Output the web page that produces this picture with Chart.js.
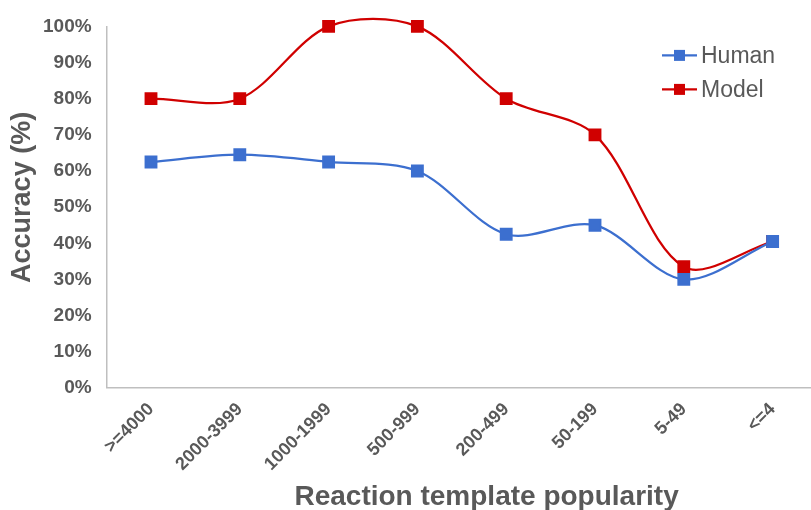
<!DOCTYPE html>
<html>
<head>
<meta charset="utf-8">
<script src="https://cdn.jsdelivr.net/npm/chart.js@4.4.1/dist/chart.umd.min.js"></script>
<style>
  html, body { margin: 0; padding: 0; background: #fff; overflow: hidden; }
  canvas { display: block; }
</style>
</head>
<body>
<canvas id="chart" width="818" height="510"></canvas>
<script>
const categories = ['>=4000', '2000-3999', '1000-1999', '500-999', '200-499', '50-199', '5-49', '<=4'];
const humanValues = [62.5, 64.5, 62.5, 60, 42.5, 45, 30, 40.5];
const modelValues = [80, 80, 100, 100, 80, 70, 33.5, 40.5];
const yTicks = [0, 10, 20, 30, 40, 50, 60, 70, 80, 90, 100];

const xTitle = 'Reaction template popularity';
const yTitle = 'Accuracy (%)';

const FONT = "'Liberation Sans', Arial, Helvetica, sans-serif";
const GREY = '#595959';
const BLUE = '#3c6fcf';
const RED = '#d00000';

// axis titles + legend drawn by hand (Excel-style placement)
const decorPlugin = {
  id: 'decor',
  afterDraw(chart) {
    const ctx = chart.ctx;
    const area = chart.chartArea;
    ctx.save();
    ctx.fillStyle = GREY;

    // y title
    ctx.font = 'bold 27px ' + FONT;
    ctx.textAlign = 'center';
    ctx.textBaseline = 'middle';
    ctx.translate(23, area.top + 171);
    ctx.rotate(-Math.PI / 2);
    ctx.fillText(yTitle, 0, 0);
    ctx.setTransform(1, 0, 0, 1, 0, 0);

    // x title
    ctx.font = 'bold 28px ' + FONT;
    ctx.fillText(xTitle, area.left + 380, 497);

    // legend
    ctx.font = '23px ' + FONT;
    ctx.textAlign = 'left';
    chart.data.datasets.forEach((ds, i) => {
      const y = area.top + 29 + i * 34;
      const x0 = area.right - 155;
      ctx.strokeStyle = ds.borderColor;
      ctx.lineWidth = 2.25;
      ctx.beginPath();
      ctx.moveTo(x0, y);
      ctx.lineTo(x0 + 35, y);
      ctx.stroke();
      ctx.fillStyle = ds.backgroundColor;
      ctx.fillRect(x0 + 12, y - 5.5, 11, 11);
      ctx.fillStyle = GREY;
      ctx.fillText(ds.label, x0 + 39, y + 1);
    });
    ctx.restore();
  }
};

const lineDefaults = {
  borderWidth: 2.25,
  pointStyle: 'rect',
  pointRadius: 7.5,
  pointHoverRadius: 7.5,
  tension: 0.32,
  clip: false
};

new Chart(document.getElementById('chart'), {
  type: 'line',
  data: {
    labels: categories,
    datasets: [
      { ...lineDefaults, label: 'Human', data: humanValues, borderColor: BLUE, backgroundColor: BLUE, pointBorderColor: BLUE },
      { ...lineDefaults, label: 'Model', data: modelValues, borderColor: RED, backgroundColor: RED, pointBorderColor: RED }
    ]
  },
  options: {
    responsive: false,
    animation: false,
    layout: { autoPadding: false, padding: { left: 28, top: 26, right: 1, bottom: 24 } },
    elements: { line: { capBezierPoints: false } },
    plugins: {
      legend: { display: false },
      tooltip: { enabled: false }
    },
    scales: {
      x: {
        offset: true,
        grid: { display: false, drawTicks: false },
        border: { display: true, color: '#bfbfbf', width: 1.5 },
        ticks: {
          color: GREY,
          font: { family: FONT, size: 18, weight: 'bold' },
          minRotation: 45,
          maxRotation: 45,
          padding: 11
        },
        // rotated labels shouldn't push the plot edges in
        afterFit: scale => { scale.paddingLeft = 0; scale.paddingRight = 0; }
      },
      y: {
        min: 0,
        max: 100,
        afterBuildTicks: axis => { axis.ticks = yTicks.map(v => ({ value: v })); },
        grid: { display: false, drawTicks: false },
        border: { display: true, color: '#bfbfbf', width: 1.5 },
        ticks: {
          color: GREY,
          font: { family: FONT, size: 19, weight: 'bold' },
          padding: 15,
          callback: v => v + '%'
        }
      }
    }
  },
  plugins: [decorPlugin]
});
</script>
</body>
</html>
